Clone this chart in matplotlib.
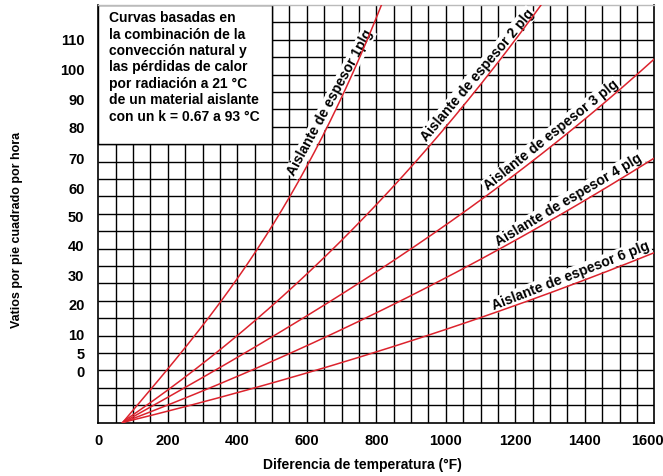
import numpy as np
import matplotlib
matplotlib.use("Agg")
import matplotlib.pyplot as plt
from matplotlib import font_manager
from matplotlib.patches import Rectangle
from matplotlib.transforms import ScaledTranslation

# pick a condensed bold face if there is one
names = {f.name for f in font_manager.fontManager.ttflist}
FONT = ["Liberation Sans", "DejaVu Sans"]
k = 1.0
for cand, fac in [("Liberation Sans Narrow", 1.2), ("DejaVu Sans Condensed", 1.0)]:
    if cand in names:
        FONT = [cand, "DejaVu Sans"]
        k = fac
        break
plt.rcParams["font.family"] = FONT
plt.rcParams["font.weight"] = "bold"

# x: temperature difference (F); y: rows of the chart grid (24 rows in total)
x_ticks = [0, 200, 400, 600, 800, 1000, 1200, 1400, 1600]
y_tick_labels = ["0", "5", "10", "20", "30", "40", "50", "60", "70", "80", "90", "100", "110"]
y_tick_rows = [2.95, 4.0, 5.05, 6.77, 8.46, 10.19, 11.82, 13.45, 15.18, 16.94, 18.57, 20.3, 22.03]

x_1 = [70, 200, 300, 400, 500, 600, 700, 815]
y_1 = [0, 3.1, 5.6, 8.3, 11.2, 14.8, 18.7, 24.0]

x_2 = [70, 400, 667, 738, 955, 1115, 1278]
y_2 = [0, 5.2, 9.7, 11.08, 16.0, 20.0, 24.0]

x_3 = [70, 400, 667, 983, 1500, 1600]
y_3 = [0, 3.75, 7.0, 11.08, 19.2, 20.85]

x_4 = [70, 400, 667, 1252, 1600]
y_4 = [0, 2.7, 5.0, 11.08, 15.2]

x_6 = [70, 400, 667, 800, 950, 1100, 1340, 1600]
y_6 = [0, 1.75, 3.3, 4.0, 5.0, 6.05, 7.8, 9.75]

curve_labels = ["Aislante de espesor 1plg", "Aislante de espesor 2 plg",
                "Aislante de espesor 3 plg", "Aislante de espesor 4 plg",
                "Aislante de espesor 6 plg"]

note = ("Curvas basadas en\nla combinación de la\nconvección natural y\n"
        "las pérdidas de calor\npor radiación a 21 °C\nde un material aislante\n"
        "con un k = 0.67 a 93 °C")

red = "#dc232d"

fig = plt.figure(figsize=(6.63, 4.76), dpi=100)
ax = fig.add_axes([0.1483, 0.112, 0.8386, 0.8775])
ax.set_xlim(0, 1600)
ax.set_ylim(0, 24)

# grid
ax.vlines(np.arange(50, 1600, 50), 0, 24, color="black", lw=1.0, zorder=1)
ax.hlines(np.arange(1, 24), 0, 1600, color="black", lw=1.0, zorder=1)

# white note box in the upper left corner
ax.add_patch(Rectangle((0, 16), 500, 8, facecolor="white", edgecolor="black",
                       lw=1.0, zorder=2))
ax.text(31, 23.65, note, ha="left", va="top", fontsize=10 * k, fontweight="bold",
        linespacing=1.22, zorder=3)

curves = [(x_1, y_1), (x_2, y_2), (x_3, y_3), (x_4, y_4), (x_6, y_6)]
smooth = []
for xs, ys in curves:
    c = np.polyfit(xs, ys, 3)
    xx = np.linspace(xs[0], xs[-1] + 30, 300)
    yy = np.polyval(c, xx)
    yy[0] = 0
    smooth.append((xx, yy))
    ax.plot(xx, yy, color=red, lw=1.1, zorder=5, clip_on=True)

# label placement along the curves (x of the text's baseline centre, angle)
label_pos = [(685, 61.4), (1106, 49.9), (1316, 38.6), (1364, 30.7), (1367, 21.3)]
for txt, (xx, yy), (lx, rot) in zip(curve_labels, smooth, label_pos):
    ly = np.interp(lx, xx, yy)
    ax.text(lx, ly + 0.12, txt, rotation=rot, rotation_mode="anchor", ha="center",
            va="bottom", fontsize=10 * k, fontweight="bold", zorder=4,
            bbox=dict(facecolor="white", edgecolor="none", pad=0.8))

ax.set_xticks(x_ticks)
ax.set_xticklabels([str(v) for v in x_ticks])
ax.set_yticks(y_tick_rows)
ax.set_yticklabels(y_tick_labels)
ax.tick_params(axis="both", length=0, labelsize=10.5 * k)
ax.tick_params(axis="x", pad=8)
ax.tick_params(axis="y", pad=10)
for t in ax.get_xticklabels() + ax.get_yticklabels():
    t.set_fontweight("bold")
# the last x label sits a little left of its grid line, as in the original
last = ax.get_xticklabels()[-1]
last.set_transform(last.get_transform() + ScaledTranslation(-0.07, 0, fig.dpi_scale_trans))

for side in ["left", "bottom", "right"]:
    ax.spines[side].set_color("black")
    ax.spines[side].set_linewidth(1.2)
ax.spines["top"].set_color("#bbbbbb")
ax.spines["top"].set_linewidth(1.0)

fig.text(362 / 663, 1 - 465 / 476, "Diferencia de temperatura (°F)", ha="center",
         va="center", fontsize=10 * k, fontweight="bold")
fig.text(0.026, 0.517, "Vatios por pie cuadrado por hora", rotation=90,
         ha="center", va="center", fontsize=9 * k, fontweight="bold")

fig.savefig("out.png", dpi=100)
